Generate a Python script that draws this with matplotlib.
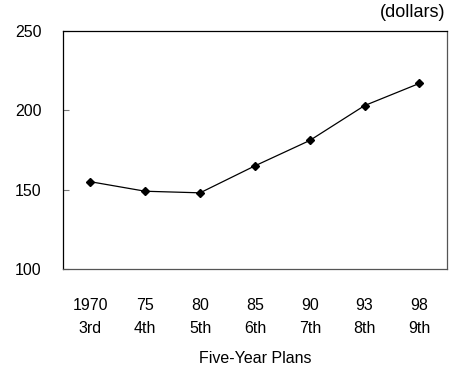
import matplotlib
matplotlib.use("Agg")
import matplotlib.pyplot as plt

plt.rcParams['font.family'] = ['Liberation Sans', 'DejaVu Sans']

years = ['1970', '75', '80', '85', '90', '93', '98']
plans = ['3rd', '4th', '5th', '6th', '7th', '8th', '9th']
values = [155, 149, 148, 165, 181, 203, 217]

fig = plt.figure(figsize=(4.5, 3.71), dpi=100)
ax = fig.add_axes([0.14, 0.275, 0.853, 0.6414])

x = list(range(len(values)))
ax.plot(x, values, color='black', linewidth=0.9, marker='D', markersize=4.5)

ax.set_xlim(-0.5, len(values) - 0.5)
ax.set_ylim(100, 250)
ax.set_yticks([100, 150, 200, 250])
ax.tick_params(axis='y', direction='in', length=4, color='#777777', pad=15.5, labelsize=11.5)
ax.set_xticks(x)
ax.set_xticklabels([f"{y}\n{p}" for y, p in zip(years, plans)])
ax.tick_params(axis='x', length=0, pad=21, labelsize=11.5)
for t in ax.get_xticklabels():
    t.set_linespacing(1.65)

for s in ax.spines.values():
    s.set_linewidth(0.9)
ax.spines['bottom'].set_color('#555555')
ax.spines['right'].set_color('#555555')

ax.set_xlabel("Five-Year Plans", fontsize=11.5, labelpad=11)
fig.text(0.99, 0.965, "(dollars)", ha='right', va='center', fontsize=13)

fig.savefig("out.png", dpi=100)
